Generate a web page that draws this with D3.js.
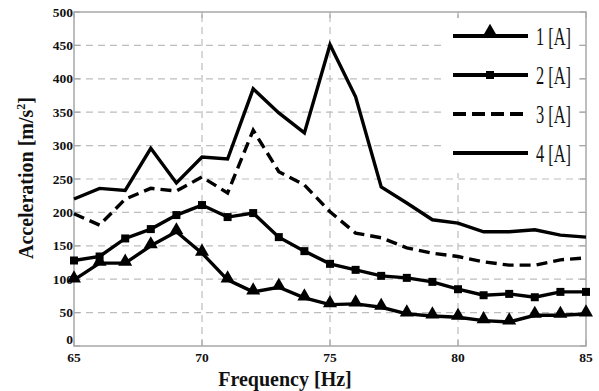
<!DOCTYPE html>
<html>
<head>
<meta charset="utf-8">
<script src="https://cdn.jsdelivr.net/npm/d3@7"></script>
<style>
  html, body { margin: 0; padding: 0; background: #fff; }
</style>
</head>
<body>
<div id="chart"></div>
<script>
const freqs = [65, 66, 67, 68, 69, 70, 71, 72, 73, 74, 75, 76, 77, 78, 79, 80, 81, 82, 83, 84, 85];
const series1 = [99, 124, 124, 150, 171, 139, 99, 81, 88, 72, 62, 63, 58, 48, 45, 43, 38, 36, 46, 46, 48];
const series2 = [128, 134, 161, 175, 196, 211, 193, 199, 163, 142, 123, 114, 105, 102, 96, 85, 76, 78, 73, 81, 81];
const series3 = [198, 181, 220, 236, 232, 253, 229, 323, 261, 241, 201, 169, 162, 147, 139, 134, 126, 121, 121, 129, 132];
const series4 = [220, 236, 233, 296, 244, 283, 280, 385, 349, 319, 451, 373, 238, 214, 189, 184, 171, 171, 174, 166, 163];
const seriesNames = ["1 [A]", "2 [A]", "3 [A]", "4 [A]"];
const xTicks = [65, 70, 75, 80, 85];
const yTicks = [0, 50, 100, 150, 200, 250, 300, 350, 400, 450, 500];

const width = 599, height = 391;
const margin = { left: 74, right: 13, top: 12, bottom: 45 };
const serif = "'Liberation Serif', 'Times New Roman', Times, serif";

const svg = d3.select("#chart").append("svg")
    .attr("width", width)
    .attr("height", height)
    .style("font-family", serif)
    .attr("font-weight", "bold");

const x = d3.scaleLinear().domain([65, 85]).range([margin.left, width - margin.right]);
const y = d3.scaleLinear().domain([0, 500]).range([height - margin.bottom, margin.top]);

const gridColor = "#bdbdbd";
const frameColor = "#a8a8a8";

// grid
svg.append("g").selectAll("line")
    .data(yTicks.filter(v => v > 0 && v < 500))
    .join("line")
    .attr("x1", x(65)).attr("x2", x(85))
    .attr("y1", d => y(d)).attr("y2", d => y(d))
    .attr("stroke", gridColor).attr("stroke-width", 1.2)
    .attr("stroke-dasharray", "7,5");

svg.append("g").selectAll("line")
    .data(xTicks.filter(v => v > 65 && v < 85))
    .join("line")
    .attr("x1", d => x(d)).attr("x2", d => x(d))
    .attr("y1", y(0)).attr("y2", y(500))
    .attr("stroke", gridColor).attr("stroke-width", 1.2)
    .attr("stroke-dasharray", "7,5");

// frame
svg.append("rect")
    .attr("x", x(65)).attr("y", y(500))
    .attr("width", x(85) - x(65)).attr("height", y(0) - y(500))
    .attr("fill", "none").attr("stroke", frameColor).attr("stroke-width", 1.5);

// inward ticks, all four sides
const tickLen = 6;
const ticks = svg.append("g").attr("stroke", frameColor).attr("stroke-width", 1.2);
yTicks.forEach(v => {
    ticks.append("line").attr("x1", x(65)).attr("x2", x(65) + tickLen).attr("y1", y(v)).attr("y2", y(v));
    ticks.append("line").attr("x1", x(85)).attr("x2", x(85) - tickLen).attr("y1", y(v)).attr("y2", y(v));
});
xTicks.forEach(v => {
    ticks.append("line").attr("x1", x(v)).attr("x2", x(v)).attr("y1", y(0)).attr("y2", y(0) - tickLen);
    ticks.append("line").attr("x1", x(v)).attr("x2", x(v)).attr("y1", y(500)).attr("y2", y(500) + tickLen);
});

// tick labels
svg.append("g").selectAll("text")
    .data(yTicks)
    .join("text")
    .attr("x", x(65) - 1)
    .attr("y", d => d === 0 ? y(d) - 2 : y(d) + 4.5)
    .attr("text-anchor", "end")
    .attr("font-size", 13.5)
    .attr("fill", "#111")
    .text(d => d);

svg.append("g").selectAll("text")
    .data(xTicks)
    .join("text")
    .attr("x", d => x(d))
    .attr("y", y(0) + 16)
    .attr("text-anchor", "middle")
    .attr("font-size", 13.5)
    .attr("fill", "#111")
    .text(d => d);

// axis titles
svg.append("text")
    .attr("x", 285).attr("y", 386)
    .attr("text-anchor", "middle")
    .attr("font-size", 20)
    .attr("fill", "#111")
    .text("Frequency [Hz]");

const yTitle = svg.append("text")
    .attr("transform", "translate(33,178) rotate(-90)")
    .attr("text-anchor", "middle")
    .attr("font-size", 20)
    .attr("fill", "#111");
yTitle.append("tspan").text("Acceleration [m/s");
yTitle.append("tspan").attr("font-size", 12).attr("dy", -8).text("2");
yTitle.append("tspan").attr("dy", 8).text("]");

// data lines
const allSeries = [
    { name: seriesNames[0], values: series1, dash: null, marker: "triangle" },
    { name: seriesNames[1], values: series2, dash: null, marker: "square" },
    { name: seriesNames[2], values: series3, dash: "11,6", marker: null },
    { name: seriesNames[3], values: series4, dash: null, marker: null }
];

const line = d3.line()
    .x((d, i) => x(freqs[i]))
    .y(d => y(d));

const triangle = d3.symbol().type(d3.symbolTriangle).size(85);
const square = d3.symbol().type(d3.symbolSquare).size(64);

allSeries.forEach(s => {
    svg.append("path")
        .datum(s.values)
        .attr("fill", "none")
        .attr("stroke", "#000")
        .attr("stroke-width", 3.4)
        .attr("stroke-dasharray", s.dash)
        .attr("d", line);

    if (s.marker) {
        svg.append("g").selectAll("path")
            .data(s.values)
            .join("path")
            .attr("transform", (d, i) => `translate(${x(freqs[i])},${y(d) + (s.marker === "triangle" ? -1.5 : 0)})`)
            .attr("d", s.marker === "triangle" ? triangle : square)
            .attr("fill", "#000");
    }
});

// legend
const legend = svg.append("g");
legend.append("rect")
    .attr("x", 445).attr("y", 18)
    .attr("width", 134).attr("height", 155)
    .attr("fill", "#fff");

allSeries.forEach((s, i) => {
    const ly = 36 + i * 39;
    legend.append("line")
        .attr("x1", 453).attr("x2", 528)
        .attr("y1", ly).attr("y2", ly)
        .attr("stroke", "#000")
        .attr("stroke-width", 3.8)
        .attr("stroke-dasharray", s.dash ? "13,6" : null);
    if (s.marker) {
        legend.append("path")
            .attr("transform", `translate(490,${ly - (s.marker === "triangle" ? 3 : 0)})`)
            .attr("d", s.marker === "triangle" ? d3.symbol().type(d3.symbolTriangle).size(110) : square)
            .attr("fill", "#000");
    }
    legend.append("text")
        .attr("x", 536).attr("y", ly + 9)
        .attr("font-size", 25)
        .attr("font-weight", "normal")
        .attr("fill", "#111")
        .attr("textLength", 35)
        .attr("lengthAdjust", "spacingAndGlyphs")
        .text(s.name);
});
</script>
</body>
</html>
